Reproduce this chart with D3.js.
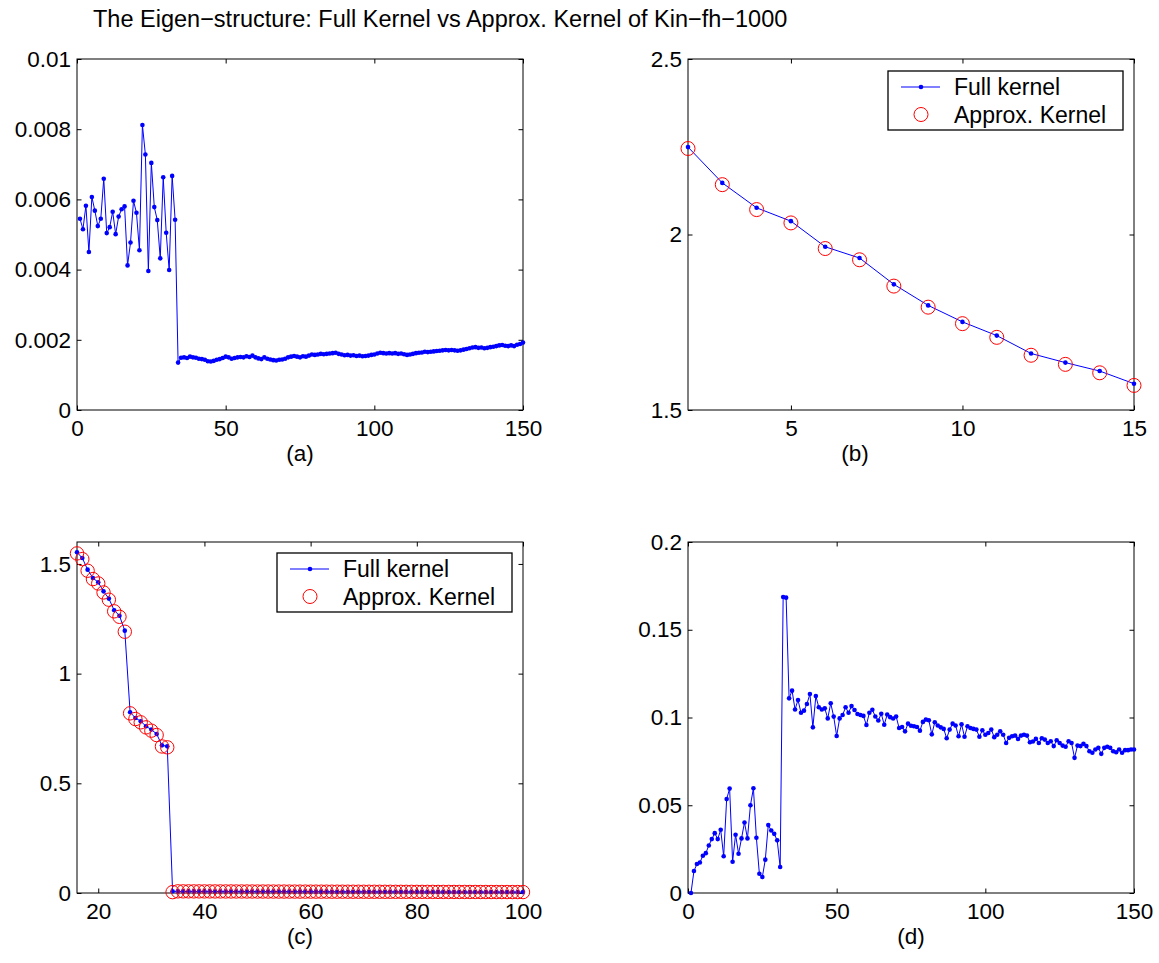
<!DOCTYPE html>
<meta charset="utf-8">
<script src="https://d3js.org/d3.v7.min.js"></script>
<style>
  body { margin: 0; background: #fff; }
  text { font-family: "Liberation Sans", Arial, sans-serif; fill: #000; }
</style>
<div id="chart"></div>
<script>

// ---- data ----
var titleText = "The Eigen\u2212structure: Full Kernel vs Approx. Kernel of Kin\u2212fh\u22121000";

// (a) index 1..150
var aValues = [
  0.00545, 0.00515, 0.00582, 0.00450, 0.00607, 0.00568, 0.00524, 0.00545, 0.00659, 0.00504,
  0.00521, 0.00565, 0.00501, 0.00551, 0.00572, 0.00580, 0.00412, 0.00477, 0.00596, 0.00562,
  0.00455, 0.00812, 0.00728, 0.00396, 0.00704, 0.00578, 0.00541, 0.00432, 0.00663, 0.00505,
  0.00399, 0.00667, 0.00542, 0.00135,
  0.00149, 0.00150, 0.00148, 0.00152, 0.00150, 0.00149, 0.00146,
  0.00145, 0.00143, 0.00139, 0.00138, 0.00140, 0.00143, 0.00145,
  0.00148, 0.00152, 0.00150, 0.00146, 0.00148, 0.00150, 0.00151,
  0.00150, 0.00153, 0.00151, 0.00155, 0.00150, 0.00147, 0.00145,
  0.00150, 0.00146, 0.00144, 0.00142, 0.00141, 0.00143, 0.00144,
  0.00146, 0.00150, 0.00152, 0.00154, 0.00152, 0.00150, 0.00153,
  0.00152, 0.00155, 0.00158, 0.00157, 0.00158, 0.00160, 0.00159,
  0.00160, 0.00161, 0.00162, 0.00163, 0.00160, 0.00158, 0.00156,
  0.00157, 0.00155, 0.00156, 0.00154, 0.00155, 0.00153, 0.00154,
  0.00155, 0.00157, 0.00158, 0.00161, 0.00163, 0.00162, 0.00161,
  0.00162, 0.00161, 0.00162, 0.00160, 0.00161, 0.00159, 0.00157,
  0.00158, 0.00160, 0.00162, 0.00163, 0.00164, 0.00166, 0.00165,
  0.00166, 0.00167, 0.00168, 0.00169, 0.00170, 0.00171, 0.00170,
  0.00171, 0.00170, 0.00169, 0.00170, 0.00172, 0.00174, 0.00176,
  0.00178, 0.00179, 0.00177, 0.00178, 0.00176, 0.00177, 0.00179,
  0.00180, 0.00182, 0.00184, 0.00185, 0.00183, 0.00182, 0.00184,
  0.00182, 0.00186, 0.00188, 0.00192
];

// (b) index 2..15
var bFull   = [2.249, 2.147, 2.076, 2.038, 1.965, 1.933, 1.858, 1.798, 1.751, 1.712, 1.661, 1.635, 1.611, 1.575];
var bApprox = [2.245, 2.142, 2.071, 2.033, 1.960, 1.928, 1.853, 1.793, 1.746, 1.707, 1.656, 1.630, 1.606, 1.570];

// (c) index 16..100
var cFullHead   = [1.553, 1.527, 1.474, 1.436, 1.416, 1.375, 1.342, 1.289, 1.264, 1.196,
                   0.824, 0.798, 0.783, 0.760, 0.745, 0.725, 0.673, 0.669, 0.008];
var cApproxHead = [1.548, 1.522, 1.469, 1.431, 1.411, 1.370, 1.337, 1.284, 1.259, 1.191,
                   0.819, 0.793, 0.778, 0.755, 0.740, 0.720, 0.668, 0.664, 0.004];
var cTail = [
  0.0075, 0.0074, 0.0074, 0.0073, 0.0073, 0.0072, 0.0072, 0.0071, 0.0071, 0.0070,
  0.0070, 0.0069, 0.0069, 0.0068, 0.0068, 0.0067, 0.0067, 0.0066, 0.0066, 0.0065,
  0.0065, 0.0064, 0.0064, 0.0063, 0.0063, 0.0062, 0.0062, 0.0061, 0.0061, 0.0060,
  0.0060, 0.0059, 0.0059, 0.0058, 0.0058, 0.0057, 0.0057, 0.0056, 0.0056, 0.0055,
  0.0055, 0.0054, 0.0054, 0.0053, 0.0053, 0.0052, 0.0052, 0.0051, 0.0051, 0.0050,
  0.0050, 0.0049, 0.0049, 0.0048, 0.0048, 0.0047, 0.0047, 0.0046, 0.0046, 0.0045,
  0.0045, 0.0044, 0.0044, 0.0043, 0.0043, 0.0042
];

// (d) index 1..150
var dValues = [
  0, 0.0125, 0.0165, 0.0174, 0.0212, 0.0227, 0.0271, 0.0307, 0.0341, 0.0307,
  0.036, 0.0209, 0.0535, 0.0595, 0.0178, 0.0332, 0.0224, 0.0311, 0.0402, 0.0311,
  0.05, 0.0597, 0.0315, 0.011, 0.0091, 0.019, 0.0387, 0.0356, 0.0337, 0.03,
  0.0148, 0.1687, 0.1683, 0.1109, 0.1153, 0.1046, 0.11, 0.1027, 0.1039, 0.1077,
  0.1134, 0.0944, 0.1122, 0.1058, 0.1046, 0.1052, 0.0995, 0.1081, 0.1005, 0.0895,
  0.0995, 0.1014, 0.1058, 0.1027, 0.1065, 0.1043, 0.102, 0.1014, 0.1009, 0.0957,
  0.1027, 0.1044, 0.1006, 0.0983, 0.1021, 0.0959, 0.1017, 0.1002, 0.0994, 0.1006,
  0.094, 0.0946, 0.0921, 0.0965, 0.0953, 0.095, 0.0946, 0.0925, 0.0975, 0.0988,
  0.0984, 0.0904, 0.0973, 0.0954, 0.0944, 0.0935, 0.0882, 0.0931, 0.0965, 0.0954,
  0.0893, 0.0961, 0.089, 0.095, 0.094, 0.0935, 0.0931, 0.089, 0.0927, 0.0902,
  0.0912, 0.0931, 0.0888, 0.0902, 0.0921, 0.0902, 0.0855, 0.0884, 0.0893, 0.0897,
  0.0878, 0.0897, 0.0902, 0.0897, 0.0859, 0.0863, 0.0878, 0.0855, 0.0882, 0.0874,
  0.0855, 0.0865, 0.0837, 0.087, 0.0855, 0.084, 0.0833, 0.0865, 0.0855, 0.077,
  0.084, 0.0837, 0.085, 0.0837, 0.0808, 0.0799, 0.0818, 0.0827, 0.0793, 0.0827,
  0.0833, 0.0827, 0.0808, 0.0802, 0.0818, 0.0799, 0.0814, 0.0814, 0.0818, 0.0818
];

// tick values and labels
var aXTicks = [0, 50, 100, 150],            aXLabels = ["0", "50", "100", "150"];
var aYTicks = [0, 0.002, 0.004, 0.006, 0.008, 0.01], aYLabels = ["0", "0.002", "0.004", "0.006", "0.008", "0.01"];
var bXTicks = [5, 10, 15],                  bXLabels = ["5", "10", "15"];
var bYTicks = [1.5, 2, 2.5],                bYLabels = ["1.5", "2", "2.5"];
var cXTicks = [20, 40, 60, 80, 100],        cXLabels = ["20", "40", "60", "80", "100"];
var cYTicks = [0, 0.5, 1, 1.5],             cYLabels = ["0", "0.5", "1", "1.5"];
var dXTicks = [0, 50, 100, 150],            dXLabels = ["0", "50", "100", "150"];
var dYTicks = [0, 0.05, 0.1, 0.15, 0.2],    dYLabels = ["0", "0.05", "0.1", "0.15", "0.2"];

var legendLabels = ["Full kernel", "Approx. Kernel"];

// ---- drawing ----
var width = 1159, height = 963;
var fontSize = 22.5;

var svg = d3.select("#chart").append("svg")
  .attr("width", width)
  .attr("height", height);

svg.append("text")
  .attr("x", 93)
  .attr("y", 27)
  .style("font-size", "23.5px")
  .text(titleText);

function toPoints(vals, start) {
  return vals.map(function(v, i) { return [start + i, v]; });
}

function drawPanel(p) {
  var x = d3.scaleLinear().domain(p.xDomain).range([p.left, p.right]);
  var y = d3.scaleLinear().domain(p.yDomain).range([p.bottom, p.top]);
  var g = svg.append("g");

  g.append("g")
    .attr("transform", "translate(0," + p.bottom + ")")
    .call(d3.axisBottom(x).tickValues(p.xTicks)
      .tickFormat(function(d, i) { return p.xLabels[i]; })
      .tickSizeInner(-4.5).tickSizeOuter(0).tickPadding(10));
  g.append("g")
    .attr("transform", "translate(" + p.left + ",0)")
    .call(d3.axisLeft(y).tickValues(p.yTicks)
      .tickFormat(function(d, i) { return p.yLabels[i]; })
      .tickSizeInner(-4.5).tickSizeOuter(0).tickPadding(6));
  g.append("g")
    .attr("transform", "translate(0," + p.top + ")")
    .call(d3.axisTop(x).tickValues(p.xTicks).tickFormat("")
      .tickSizeInner(-4.5).tickSizeOuter(0));
  g.append("g")
    .attr("transform", "translate(" + p.right + ",0)")
    .call(d3.axisRight(y).tickValues(p.yTicks).tickFormat("")
      .tickSizeInner(-4.5).tickSizeOuter(0));

  g.selectAll(".domain").remove();
  g.selectAll(".tick line").attr("stroke", "#000");
  g.selectAll(".tick text")
    .attr("fill", "#000")
    .style("font-family", "'Liberation Sans', Arial, sans-serif")
    .style("font-size", fontSize + "px");

  g.append("rect")
    .attr("x", p.left).attr("y", p.top)
    .attr("width", p.right - p.left).attr("height", p.bottom - p.top)
    .attr("fill", "none").attr("stroke", "#000").attr("stroke-width", 1);

  // panel label
  g.append("text")
    .attr("x", p.labelX != null ? p.labelX : (p.left + p.right) / 2)
    .attr("y", p.bottom + 51)
    .attr("text-anchor", "middle")
    .style("font-size", fontSize + "px")
    .text(p.label);

  var line = d3.line()
    .x(function(d) { return x(d[0]); })
    .y(function(d) { return y(d[1]); });

  g.append("path")
    .datum(p.full)
    .attr("d", line)
    .attr("fill", "none")
    .attr("stroke", "#0000ff")
    .attr("stroke-width", 1);

  g.append("g").selectAll("circle")
    .data(p.full)
    .enter().append("circle")
    .attr("cx", function(d) { return x(d[0]); })
    .attr("cy", function(d) { return y(d[1]); })
    .attr("r", 2.3)
    .attr("fill", "#0000ff");

  if (p.approx) {
    g.append("g").selectAll("circle")
      .data(p.approx)
      .enter().append("circle")
      .attr("cx", function(d) { return x(d[0]); })
      .attr("cy", function(d) { return y(d[1]); })
      .attr("r", p.ringR)
      .attr("fill", "none")
      .attr("stroke", "#ff0000")
      .attr("stroke-width", 1);
  }

  if (p.legend) {
    var L = p.legend;
    var lg = g.append("g").attr("transform", "translate(" + L.x + "," + L.y + ")");
    lg.append("rect")
      .attr("width", 235).attr("height", 59)
      .attr("fill", "#fff").attr("stroke", "#000").attr("stroke-width", 1.3);
    lg.append("line")
      .attr("x1", 13).attr("x2", 52).attr("y1", 16).attr("y2", 16)
      .attr("stroke", "#0000ff").attr("stroke-width", 1);
    lg.append("circle")
      .attr("cx", 33).attr("cy", 16).attr("r", 2.3).attr("fill", "#0000ff");
    lg.append("circle")
      .attr("cx", 33).attr("cy", 43.5).attr("r", 7)
      .attr("fill", "none").attr("stroke", "#ff0000").attr("stroke-width", 1);
    lg.selectAll("text.lab")
      .data(legendLabels)
      .enter().append("text")
      .attr("class", "lab")
      .attr("x", 66)
      .attr("y", function(d, i) { return 16 + i * 27.5; })
      .attr("dy", "0.36em")
      .style("font-size", "23px")
      .text(function(d) { return d; });
  }
}

drawPanel({
  left: 77, right: 523, top: 59, bottom: 410,
  xDomain: [0, 150], yDomain: [0, 0.01],
  xTicks: aXTicks, xLabels: aXLabels, yTicks: aYTicks, yLabels: aYLabels,
  label: "(a)",
  full: toPoints(aValues, 1)
});

drawPanel({
  left: 688, right: 1134, top: 59, bottom: 410,
  xDomain: [2, 15], yDomain: [1.5, 2.5],
  xTicks: bXTicks, xLabels: bXLabels, yTicks: bYTicks, yLabels: bYLabels,
  label: "(b)", labelX: 855,
  full: toPoints(bFull, 2),
  approx: toPoints(bApprox, 2),
  ringR: 7,
  legend: { x: 888, y: 71 }
});

drawPanel({
  left: 77, right: 523, top: 542, bottom: 893,
  xDomain: [16, 100], yDomain: [0, 1.6],
  xTicks: cXTicks, xLabels: cXLabels, yTicks: cYTicks, yLabels: cYLabels,
  label: "(c)",
  full: toPoints(cFullHead.concat(cTail), 16),
  approx: toPoints(cApproxHead.concat(cTail), 16),
  ringR: 6.7,
  legend: { x: 277, y: 553 }
});

drawPanel({
  left: 688, right: 1134, top: 542, bottom: 893,
  xDomain: [0, 150], yDomain: [0, 0.2],
  xTicks: dXTicks, xLabels: dXLabels, yTicks: dYTicks, yLabels: dYLabels,
  label: "(d)",
  full: toPoints(dValues, 1)
});

</script>
